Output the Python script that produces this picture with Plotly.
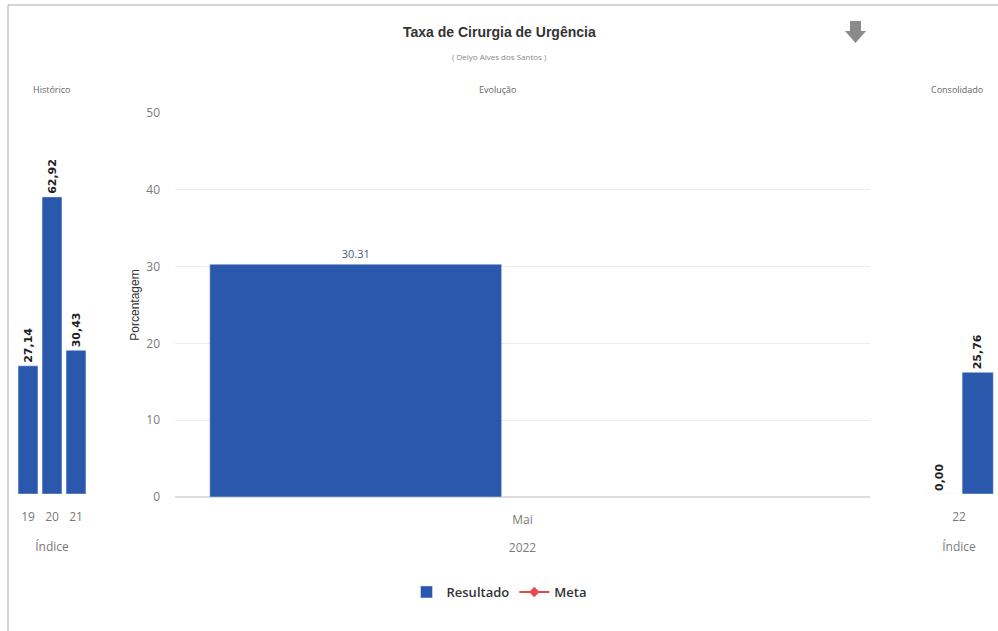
import plotly.graph_objects as go

W, H = 998, 631

# ---- data ----
hist_cats = ["19", "20", "21"]
hist_vals = [27.14, 62.92, 30.43]

evo_cats = ["Mai"]
evo_year = "2022"
evo_result = [30.31]
evo_meta = [None]

cons_cats = ["22"]
cons_vals_a = [0.00]
cons_vals_b = [25.76]

title_text = "Taxa de Cirurgia de Urgência"
subtitle_text = "( Delyo Alves dos Santos )"

BLUE = "#2a58ad"
TICK = "#7a7a7a"
FONT = "Open Sans"


def px(x):
    return x / W


def py(y):
    return 1 - y / H


def br(v):
    return f"{v:.2f}".replace(".", ",")


label_font = dict(family="DejaVu Sans", size=11, color="#222", weight="bold")

fig = go.Figure()

# Histórico
fig.add_trace(go.Bar(
    x=hist_cats, y=hist_vals, marker_color=BLUE, showlegend=False,
    text=[br(v) for v in hist_vals], textposition="outside", textangle=-90,
    textfont=label_font, constraintext="none",
    cliponaxis=False, xaxis="x", yaxis="y", hoverinfo="skip"))

# Evolução
fig.add_trace(go.Bar(
    x=evo_cats, y=evo_result, name="Resultado", marker_color=BLUE,
    width=0.42, offset=-0.45,
    text=[f"{v:.2f}" for v in evo_result], textposition="outside",
    textfont=dict(family=FONT, size=11, color="#4a5a80"), constraintext="none",
    cliponaxis=False, xaxis="x2", yaxis="y2"))
fig.add_trace(go.Scatter(
    x=evo_cats, y=evo_meta, name="Meta", mode="lines+markers",
    line=dict(color="#e8474c", width=2),
    marker=dict(symbol="diamond", size=8, color="#e8474c"),
    xaxis="x2", yaxis="y2"))

# Consolidado
fig.add_trace(go.Bar(
    x=cons_cats, y=cons_vals_a, marker_color=BLUE, showlegend=False,
    width=0.4, offset=-0.45,
    text=[br(v) for v in cons_vals_a], textposition="outside", textangle=-90,
    textfont=label_font, constraintext="none",
    cliponaxis=False, xaxis="x3", yaxis="y3"))
fig.add_trace(go.Bar(
    x=cons_cats, y=cons_vals_b, marker_color=BLUE, showlegend=False,
    width=0.4, offset=0.04,
    text=[br(v) for v in cons_vals_b], textposition="outside", textangle=-90,
    textfont=label_font, constraintext="none",
    cliponaxis=False, xaxis="x3", yaxis="y3"))

side_range = [0, 79.2]
tickfont = dict(family=FONT, size=12, color=TICK)
ttl = dict(family=FONT, size=12, color=TICK)

fig.update_layout(
    width=W, height=H,
    margin=dict(l=0, r=0, t=0, b=0, autoexpand=False),
    paper_bgcolor="white", plot_bgcolor="white",
    bargap=0.17,
    font=dict(family=FONT, color=TICK),
    xaxis=dict(domain=[px(16), px(88)], anchor="y", showgrid=False, showline=False,
               zeroline=False, tickfont=tickfont, ticklabelstandoff=14, automargin=False,
               title=dict(text="Índice", font=ttl, standoff=18)),
    yaxis=dict(domain=[py(494), py(120)], anchor="x", range=side_range, visible=False,
               automargin=False),
    xaxis2=dict(domain=[px(175), px(870)], anchor="y2", showgrid=False, showline=False,
                zeroline=False, tickfont=tickfont, ticklabelstandoff=14, automargin=False,
                range=[-0.5, 0.5],
                title=dict(text=evo_year, font=ttl, standoff=16)),
    yaxis2=dict(domain=[py(497), py(113)], anchor="x2", range=[0, 50], dtick=10,
                showgrid=True, gridcolor="#ececec", gridwidth=1, zeroline=True,
                zerolinecolor="#dddddd", showline=False, tickfont=tickfont,
                ticklabelstandoff=14, automargin=False,
                title=dict(text="Porcentagem", font=dict(family="Liberation Sans", size=12, color="#333"),
                           standoff=4)),
    xaxis3=dict(domain=[px(920), px(998)], anchor="y3", showgrid=False, showline=False,
                zeroline=False, tickfont=tickfont, ticklabelstandoff=14, range=[-0.5, 0.5],
                automargin=False,
                title=dict(text="Índice", font=ttl, standoff=18)),
    yaxis3=dict(domain=[py(494), py(120)], anchor="x3", range=side_range, visible=False,
                automargin=False),
    legend=dict(orientation="h", x=0.5, xanchor="center", y=py(592), yanchor="middle",
                font=dict(family="Open Sans", size=13, color="#333", weight=600),
                itemwidth=30, tracegroupgap=0),
    showlegend=True,
)


def note(text, x, y, size, color, family=FONT):
    return dict(text=text, x=px(x), y=py(y), xref="paper", yref="paper",
                xanchor="center", yanchor="middle", showarrow=False,
                font=dict(family=family, size=size, color=color))


fig.update_layout(annotations=[
    note(f"<b>{title_text}</b>", 499, 32, 14, "#333", "Liberation Sans"),
    note(subtitle_text, 499, 57, 8, "#888"),
    note("Histórico", 52, 90, 9, "#666"),
    note("Evolução", 497, 90, 9, "#666"),
    note("Consolidado", 957, 90, 9, "#666"),
])

# frame and download arrow decoration
fig.update_layout(shapes=[
    dict(type="line", xref="paper", yref="paper", x0=px(8), x1=px(8), y0=0, y1=py(5),
         line=dict(color="#aaaaaa", width=1)),
    dict(type="line", xref="paper", yref="paper", x0=px(8), x1=1, y0=py(5), y1=py(5),
         line=dict(color="#aaaaaa", width=1)),
    dict(type="path", xref="paper", yref="paper",
         path=(f"M {px(850)} {py(21)} L {px(861)} {py(21)} L {px(861)} {py(31)} "
               f"L {px(866)} {py(31)} L {px(855.5)} {py(43)} L {px(845)} {py(31)} "
               f"L {px(850)} {py(31)} Z"),
         fillcolor="#8a8a8a", line=dict(width=0)),
])

fig.write_html("out.html", config={"displayModeBar": False},
               post_script="document.body.style.margin='0';document.body.style.overflow='hidden';")
